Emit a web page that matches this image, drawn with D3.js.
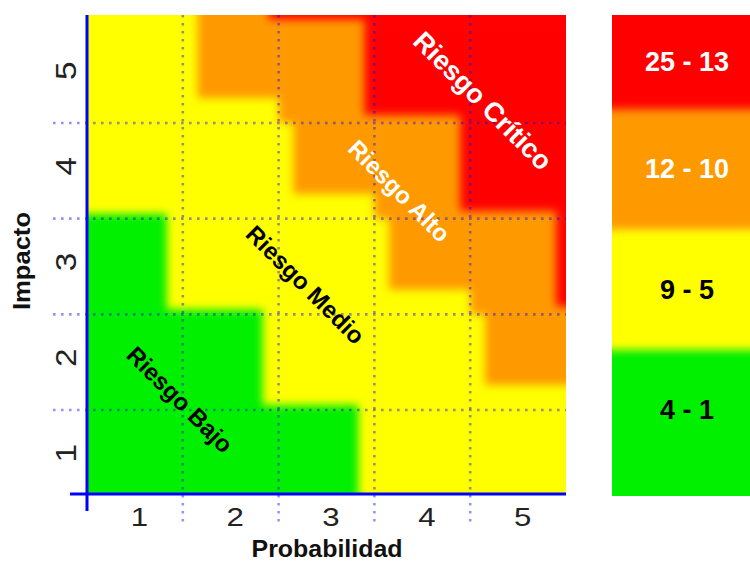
<!DOCTYPE html>
<html><head><meta charset="utf-8">
<script src="https://cdn.jsdelivr.net/npm/d3@7"></script>
<style>body{margin:0;background:#fff}svg{display:block}</style>
</head><body>
<svg id="chart" width="750" height="563"></svg>
<script>
// ---------- data ----------
const probabilities = [1, 2, 3, 4, 5];
const impacts = [1, 2, 3, 4, 5];
const levelColors = ["#00f000", "#ffff00", "#ff9900", "#ff0000"]; // bajo, medio, alto, crítico
const legendLabels = ["4 - 1", "9 - 5", "12 - 10", "25 - 13"];
// risk level of every cell (0 bajo, 1 medio, 2 alto, 3 crítico)
// rows = impacto 1..6, columns = probabilidad 1..6 (6th row/column lie past the frame, only their edge shows)
const riskLevels = [
  [0, 0, 0, 1, 1, 1],
  [0, 0, 1, 1, 2, 2],
  [0, 1, 1, 2, 2, 3],
  [1, 1, 2, 2, 3, 3],
  [1, 2, 2, 3, 3, 3],
  [1, 2, 3, 3, 3, 3]
];
const zoneNames = ["Riesgo Bajo", "Riesgo Medio", "Riesgo Alto", "Riesgo Crítico"];
const zoneProb = [1.47, 2.78, 3.76, 4.63];
const zoneImpact = [1.61, 2.81, 3.79, 4.73];

// ---------- layout ----------
const P = {left: 87, right: 566, top: 15, bottom: 494};
const svg = d3.select("#chart");
const FONT = "'Liberation Sans', Arial, Helvetica, sans-serif";

const x = d3.scaleLinear().domain([0.5, 5.5]).range([P.left, P.right]);
const y = d3.scaleLinear().domain([0.622, 5.629]).range([P.bottom, P.top]);

const defs = svg.append("defs");
const blur = defs.append("filter").attr("id", "soft")
  .attr("x", "-20%").attr("y", "-20%").attr("width", "140%").attr("height", "140%")
  .attr("color-interpolation-filters", "sRGB");
blur.append("feGaussianBlur").attr("stdDeviation", 4.5);
defs.append("clipPath").attr("id", "plotClip").append("rect")
  .attr("x", P.left).attr("y", P.top).attr("width", P.right - P.left).attr("height", P.bottom - P.top);

// boundary shifts (px) between neighbouring levels: the brighter colours bleed a little
const hShift = {"01": -16, "10": 16, "12": 15, "21": -15, "23": -10, "32": 10};
const vShift = {"10": -5, "01": 5, "21": -25, "12": 25, "32": -8, "23": 8};
const hs = (a, b) => hShift["" + a + b] || 0;
const vs = (a, b) => vShift["" + a + b] || 0;
const pad = 30;

const nR = riskLevels.length, nC = riskLevels[0].length;
const cells = [];
riskLevels.forEach((row, r) => row.forEach((lv, c) => {
  const gx0 = x(c + 0.5), gx1 = x(c + 1.5), gy0 = y(r + 1.5), gy1 = y(r + 0.5);
  const base = {
    x0: c === 0 ? gx0 - pad : gx0, x1: c === nC - 1 ? gx1 + pad : gx1,
    y0: r === nR - 1 ? gy0 - pad : gy0, y1: r === 0 ? gy1 + pad : gy1
  };
  const adj = {
    x0: c === 0 ? gx0 - pad : gx0 + hs(riskLevels[r][c - 1], lv),
    x1: c === nC - 1 ? gx1 + pad : gx1 + hs(lv, riskLevels[r][c + 1]),
    y0: r === nR - 1 ? gy0 - pad : gy0 + vs(riskLevels[r + 1][c], lv),
    y1: r === 0 ? gy1 + pad : gy1 + vs(lv, riskLevels[r - 1][c])
  };
  cells.push({r, c, lv, base, adj});
}));

const heat = svg.append("g").attr("clip-path", "url(#plotClip)")
  .append("g").attr("filter", "url(#soft)");
heat.selectAll("rect.base").data(cells).join("rect").attr("class", "base")
  .attr("x", d => d.base.x0).attr("y", d => d.base.y0)
  .attr("width", d => d.base.x1 - d.base.x0).attr("height", d => d.base.y1 - d.base.y0)
  .attr("fill", d => levelColors[d.lv]);
heat.selectAll("rect.adj").data(cells).join("rect").attr("class", "adj")
  .attr("x", d => d.adj.x0).attr("y", d => d.adj.y0)
  .attr("width", d => Math.max(0, d.adj.x1 - d.adj.x0)).attr("height", d => Math.max(0, d.adj.y1 - d.adj.y0))
  .attr("fill", d => levelColors[d.lv]);

// ---------- grid (dotted, semi-transparent blue) ----------
const gridVals = [1.5, 2.5, 3.5, 4.5];
const grid = svg.append("g").attr("stroke", "rgba(0,0,255,0.42)")
  .attr("stroke-width", 2.6).attr("stroke-dasharray", "2.6,5.4");
grid.selectAll("line.h").data(gridVals).join("line").attr("class", "h")
  .attr("x1", 53).attr("x2", P.right).attr("y1", d => y(d)).attr("y2", d => y(d));
grid.selectAll("line.v").data(gridVals).join("line").attr("class", "v")
  .attr("y1", P.top).attr("y2", 526).attr("x1", d => x(d)).attr("x2", d => x(d));

// ---------- zone labels ----------
svg.append("g").selectAll("text").data(zoneNames).join("text")
  .attr("transform", (d, i) => `translate(${x(zoneProb[i])},${y(zoneImpact[i])}) rotate(45)`)
  .attr("text-anchor", "middle").attr("dominant-baseline", "central")
  .attr("font-family", FONT).attr("font-weight", "bold")
  .attr("font-size", (d, i) => i === 3 ? 27 : 24)
  .attr("fill", (d, i) => i >= 2 ? "#ffffff" : "#000000")
  .text(d => d);

// ---------- axes ----------
const xAxis = svg.append("g").attr("transform", `translate(0,${P.bottom})`)
  .call(d3.axisBottom(x).tickValues(probabilities).tickSize(0).tickFormat(d3.format("d")));
xAxis.select(".domain").remove();
xAxis.selectAll("text").attr("y", null).attr("dy", null)
  .attr("dominant-baseline", "central")
  .attr("transform", "translate(4,23) scale(1.2,1)")
  .style("font-size", "26px").style("font-family", FONT).attr("fill", "#222");

const yAxis = svg.append("g").attr("transform", `translate(${P.left},0)`)
  .call(d3.axisLeft(y).tickValues(impacts).tickSize(0).tickFormat(d3.format("d")));
yAxis.select(".domain").remove();
yAxis.selectAll("text").attr("x", null).attr("dy", null)
  .attr("text-anchor", "middle").attr("dominant-baseline", "central")
  .attr("transform", "translate(-21,-5) rotate(-90) scale(1.15,1)")
  .style("font-size", "29px").style("font-family", FONT).attr("fill", "#222");

const axisLines = svg.append("g").attr("stroke", "#0000ff").attr("stroke-width", 3);
axisLines.append("line").attr("x1", x(0.5)).attr("x2", x(0.5)).attr("y1", P.top).attr("y2", 511);
axisLines.append("line").attr("x1", 70).attr("x2", x(5.5)).attr("y1", P.bottom).attr("y2", P.bottom);

svg.append("text").attr("x", 327).attr("y", 549)
  .attr("text-anchor", "middle").attr("dominant-baseline", "central")
  .attr("font-family", FONT).attr("font-weight", "bold").attr("font-size", 23)
  .attr("textLength", 151).attr("lengthAdjust", "spacingAndGlyphs").attr("fill", "#111")
  .text("Probabilidad");
svg.append("text").attr("transform", "translate(22,261) rotate(-90)")
  .attr("text-anchor", "middle").attr("dominant-baseline", "central")
  .attr("font-family", FONT).attr("font-weight", "bold").attr("font-size", 23)
  .attr("textLength", 98).attr("lengthAdjust", "spacingAndGlyphs").attr("fill", "#111")
  .text("Impacto");

// ---------- legend ----------
const L = {left: 612, right: 760, top: 15, bottom: 496};
const ly = d3.scaleLinear().domain([0, 4]).range([L.bottom, L.top]);
const legendShift = -26;
defs.append("clipPath").attr("id", "legClip").append("rect")
  .attr("x", L.left).attr("y", L.top).attr("width", L.right - L.left).attr("height", L.bottom - L.top);
const legBands = legendLabels.map((lab, i) => {
  const yTop = ly(i + 1) + legendShift, yBot = ly(i) + legendShift;
  return {lab, i,
    y0: i === legendLabels.length - 1 ? L.top - pad : yTop,
    y1: i === 0 ? L.bottom + pad : yBot,
    cy: (Math.max(L.top, yTop) + Math.min(L.bottom, yBot)) / 2};
});
svg.append("g").attr("clip-path", "url(#legClip)").append("g").attr("filter", "url(#soft)")
  .selectAll("rect").data(legBands).join("rect")
  .attr("x", L.left - pad).attr("width", L.right - L.left + 2 * pad)
  .attr("y", d => d.y0).attr("height", d => d.y1 - d.y0)
  .attr("fill", d => levelColors[d.i]);
svg.append("g").selectAll("text").data(legBands).join("text")
  .attr("x", 687).attr("y", d => d.cy)
  .attr("text-anchor", "middle").attr("dominant-baseline", "central")
  .attr("font-family", FONT).attr("font-weight", "bold").attr("font-size", 27)
  .attr("fill", d => d.i >= 2 ? "#ffffff" : "#000000")
  .text(d => d.lab);
</script>
</body></html>
